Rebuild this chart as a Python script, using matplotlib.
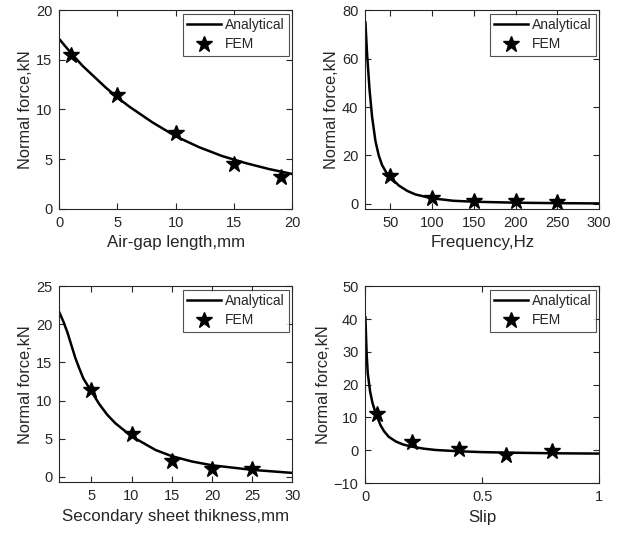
import matplotlib
matplotlib.use("Agg")
import matplotlib.pyplot as plt

plt.rcParams['font.family'] = ['Liberation Sans', 'DejaVu Sans']

# air-gap length
gap_x = [0, 1, 2, 3, 4, 5, 6, 7, 8, 9, 10, 12, 14, 16, 18, 20]
gap_an = [17.1, 15.7, 14.4, 13.3, 12.2, 11.2, 10.3, 9.5, 8.7, 8.0, 7.3, 6.2, 5.3, 4.6, 4.0, 3.5]
gap_fem_x = [1, 5, 10, 15, 19]
gap_fem = [15.5, 11.5, 7.6, 4.5, 3.2]

# frequency
freq_x = [20, 22, 25, 28, 32, 36, 40, 45, 50, 60, 70, 80, 100, 125, 150, 200, 250, 300]
freq_an = [75, 62, 47, 36, 26, 20, 16, 13, 11, 7.6, 5.4, 3.9, 2.3, 1.3, 0.9, 0.5, 0.3, 0.2]
freq_fem_x = [50, 100, 150, 200, 250]
freq_fem = [11.7, 2.5, 1.4, 1.1, 0.7]

# secondary sheet thickness
thk_x = [1, 1.5, 2, 2.5, 3, 3.5, 4, 5, 6, 7, 8, 10, 12, 13, 15, 17.5, 20, 22.5, 25, 27.5, 30]
thk_an = [21.6, 20.4, 19.0, 17.3, 15.6, 14.2, 12.9, 11.2, 9.5, 8.1, 7.0, 5.3, 4.1, 3.5, 2.7, 2.0,
          1.5, 1.2, 0.9, 0.7, 0.5]
thk_fem_x = [5, 10, 15, 20, 25]
thk_fem = [11.4, 5.6, 2.0, 1.05, 0.96]

# slip
slip_x = [0, 0.005, 0.01, 0.02, 0.03, 0.04, 0.05, 0.065, 0.08, 0.1, 0.13, 0.16, 0.2, 0.25,
          0.3, 0.4, 0.5, 0.6, 0.8, 1.0]
slip_an = [40.5, 30, 23.5, 18, 14.5, 12.2, 10.3, 7.6, 5.8, 4.1, 2.7, 1.8, 1.1, 0.5,
           0.1, -0.3, -0.55, -0.7, -0.9, -1.0]
slip_fem_x = [0.05, 0.2, 0.4, 0.6, 0.8]
slip_fem = [11.2, 2.6, 0.4, -1.3, -0.3]

grey = '#262626'

fig = plt.figure(figsize=(6.3, 5.38), dpi=100)
ax1 = fig.add_axes([0.094, 0.612, 0.370, 0.369])
ax2 = fig.add_axes([0.580, 0.612, 0.371, 0.369])
ax3 = fig.add_axes([0.094, 0.104, 0.370, 0.364])
ax4 = fig.add_axes([0.580, 0.102, 0.371, 0.366])

panels = [
    (ax1, gap_x, gap_an, gap_fem_x, gap_fem, 'Air-gap length,mm', (0, 20), (0, 20),
     [0, 5, 10, 15, 20], [0, 5, 10, 15, 20]),
    (ax2, freq_x, freq_an, freq_fem_x, freq_fem, 'Frequency,Hz', (20, 300), (-2, 80),
     [50, 100, 150, 200, 250, 300], [0, 20, 40, 60, 80]),
    (ax3, thk_x, thk_an, thk_fem_x, thk_fem, 'Secondary sheet thikness,mm', (1, 30), (-0.7, 25),
     [5, 10, 15, 20, 25, 30], [0, 5, 10, 15, 20, 25]),
    (ax4, slip_x, slip_an, slip_fem_x, slip_fem, 'Slip', (0, 1), (-10, 50),
     [0, 0.5, 1], [-10, 0, 10, 20, 30, 40, 50]),
]

for ax, x, y, fx, fy, xlab, xl, yl, xt, yt in panels:
    ax.plot(x, y, color='black', lw=1.8, label='Analytical')
    ax.plot(fx, fy, linestyle='none', marker='*', ms=12, color='black',
            markeredgewidth=1.0, label='FEM')
    ax.set_xlim(xl)
    ax.set_ylim(yl)
    ax.set_xticks(xt)
    ax.set_yticks(yt)
    ax.set_xlabel(xlab, fontsize=12.2, color=grey, labelpad=4)
    ax.set_ylabel('Normal force,kN', fontsize=11.8, color=grey, labelpad=2)
    ax.tick_params(direction='in', top=True, right=True, length=4, width=0.8,
                   labelsize=10.5, colors=grey, pad=5)
    for s in ax.spines.values():
        s.set_color(grey)
        s.set_linewidth(0.8)
    leg = ax.legend(loc='upper right', fontsize=10, frameon=True, fancybox=False,
                    handlelength=2.4, borderaxespad=0.25, borderpad=0.3,
                    labelspacing=0.4, handletextpad=0.3)
    leg.get_frame().set_edgecolor(grey)
    leg.get_frame().set_linewidth(0.8)
    for t in leg.get_texts():
        t.set_color(grey)

ax4.set_xticklabels(['0', '0.5', '1'])

fig.savefig('out.png', dpi=100, facecolor='white')
